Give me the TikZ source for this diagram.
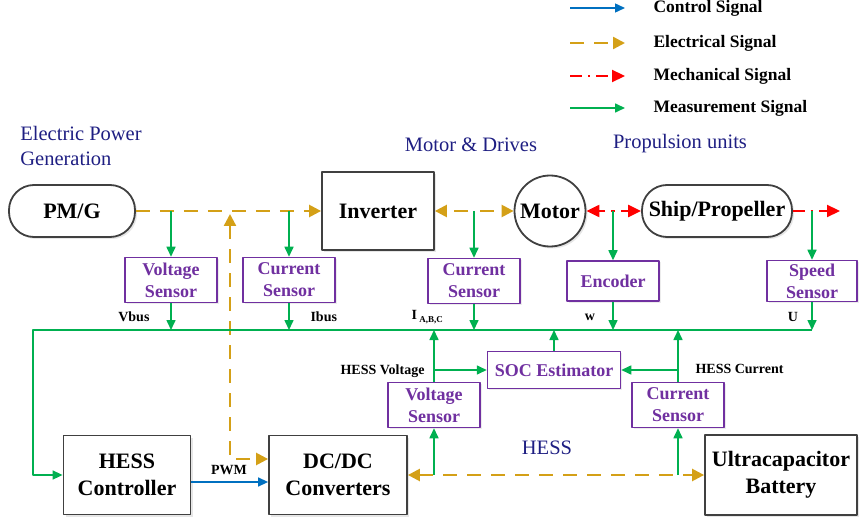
\documentclass[tikz,border=0pt]{standalone}
\usepackage{fontspec}
\setmainfont{Liberation Serif}
\usetikzlibrary{arrows.meta,shadows}
\definecolor{ctrlblue}{RGB}{0,112,192}
\definecolor{elecgold}{RGB}{212,160,23}
\definecolor{measgreen}{RGB}{0,176,80}
\definecolor{sensorpurple}{RGB}{112,48,160}
\definecolor{groupnavy}{RGB}{30,30,130}
\definecolor{boxgray}{RGB}{64,64,64}
\begin{document}
\begin{tikzpicture}[x=1pt,y=-1pt,line join=round]
	\tikzset{
		block/.style={draw=boxgray,line width=1.8pt,fill=white,align=center,inner sep=0pt,
			font=\fontsize{22}{27}\selectfont\bfseries,
			drop shadow={opacity=0.2,shadow xshift=2pt,shadow yshift=-2pt}},
		pill/.style={block,rounded corners=25pt},
		sensor/.style={draw=sensorpurple,line width=1.5pt,fill=white,text=sensorpurple,align=center,
			inner sep=0pt,minimum width=92pt,minimum height=45pt,
			font=\fontsize{18}{22}\selectfont\bfseries,
			drop shadow={opacity=0.15,shadow xshift=1.5pt,shadow yshift=-1.5pt}},
		group/.style={text=groupnavy,align=left,font=\fontsize{20.5}{25}\selectfont},
		tag/.style={font=\fontsize{14}{16}\selectfont\bfseries},
		legendtext/.style={anchor=west,font=\fontsize{17.5}{20}\selectfont\bfseries},
		ctrl/.style={ctrlblue,line width=1.4pt,>={Triangle[length=10pt,width=9pt]}},
		elec/.style={elecgold,line width=2.4pt,dash pattern=on 14pt off 10pt,>={Triangle[length=12pt,width=12pt]}},
		mech/.style={red,line width=2.2pt,dash pattern=on 12pt off 6pt on 2pt off 6pt,>={Triangle[length=13pt,width=12pt]}},
		meas/.style={measgreen,line width=1.6pt,>={Triangle[length=10pt,width=9pt]}}
	}
	\useasboundingbox (0,0) rectangle (859,521);
	% legend
	\foreach \sty/\txt/\y [count=\i] in {ctrl/Control Signal/8,elec/Electrical Signal/43,mech/Mechanical Signal/76,meas/Measurement Signal/108}{
		\coordinate (legs\i) at (570,\y);
		\coordinate (lege\i) at (625,\y);
		\node[legendtext] (legtxt\i) at (650,\y) {\txt};
		\draw[\sty,->] (legs\i) -- (lege\i);
	}
	% group titles
	\node[group] (gen) at (81,146) {Electric Power\\Generation};
	\node[group] (drives) at (471,145) {Motor \& Drives};
	\node[group] (prop) at (680,144) {Propulsion units};
	\node[group] (hess) at (547,448) {HESS};
	% main blocks
	\node[pill,minimum width=126pt,minimum height=52pt] (pmg) at (72,211) {PM/G};
	\node[block,minimum width=112pt,minimum height=78pt] (inv) at (378,211) {Inverter};
	\node[block,circle,minimum size=71pt] (motor) at (550,211) {Motor};
	\node[pill,minimum width=150pt,minimum height=52pt] (ship) at (717,211) {Ship/Propeller};
	\node[block,minimum width=127pt,minimum height=79pt] (hc) at (127,475) {HESS\\Controller};
	\node[block,minimum width=138pt,minimum height=79pt] (dcdc) at (338,475) {DC/DC\\Converters};
	\node[block,minimum width=152pt,minimum height=80pt] (uc) at (781,475) {Ultracapacitor\\Battery};
	% sensors
	\node[sensor] (vs1) at (171,280) {Voltage\\Sensor};
	\node[sensor] (cs1) at (289,280) {Current\\Sensor};
	\node[sensor] (cs2) at (474,281) {Current\\Sensor};
	\node[sensor,minimum height=40pt] (enc) at (613,281) {Encoder};
	\node[sensor,minimum width=90pt,minimum height=41pt] (ss) at (812,281) {Speed\\Sensor};
	\node[sensor,minimum width=133pt,minimum height=37pt] (soc) at (554,370) {SOC Estimator};
	\node[sensor] (vs2) at (434,405) {Voltage\\Sensor};
	\node[sensor] (cs3) at (678,405) {Current\\Sensor};
	% signal labels
	\node[tag,anchor=east] (vbus) at (153,317) {Vbus};
	\node[tag,anchor=west] (ibus) at (307,317) {Ibus};
	\node[tag,anchor=west] (iabc) at (408,317) {I\,\raisebox{-2.5pt}{\fontsize{9}{10}\selectfont A,B,C}};
	\node[tag] (wlab) at (590,317) {w};
	\node[tag] (ulab) at (793,317) {U};
	\node[tag,anchor=east] (hv) at (428,371) {HESS Voltage};
	\node[tag,anchor=west] (hi) at (692,369) {HESS Current};
	\node[tag] (pwm) at (229,470) {PWM};
	% electrical
	\coordinate (gtap) at (230,214);
	\coordinate (itap) at (474,211);
	\draw[elec,->] (pmg) -- (inv);
	\draw[elec,<->] (gtap) |- ([yshift=16pt]dcdc.west);
	\draw[elec,->] ([xshift=-6pt]itap) -- (inv.east);
	\draw[elec,->] ([xshift=6pt]itap) -- (motor.west);
	\draw[elec,<->] (dcdc.east) -- (uc.west);
	% mechanical
	\coordinate (etap) at (613,211);
	\coordinate (wake) at (840,211);
	\draw[mech,dash phase=18pt,->] (etap) -- (motor.east);
	\draw[mech,dash phase=18pt,->] (etap) -- (ship.west);
	\draw[mech,->] (ship.east) -- (wake);
	% control
	\draw[ctrl,->] ([yshift=-7pt]hc.east) -- ([yshift=-7pt]hc.east -| dcdc.west);
	% measurement
	\coordinate (busL) at (33,330);
	\draw[meas,->] (vs1.north |- pmg.east) -- (vs1.north);
	\draw[meas,->] (cs1.north |- pmg.east) -- (cs1.north);
	\draw[meas,->] (itap) -- (cs2.north);
	\draw[meas,->] (etap) -- (enc.north);
	\draw[meas,->] (ss.north |- ship.east) -- (ss.north);
	\foreach \s in {vs1,cs1,cs2,enc,ss}
	\draw[meas,->] (\s.south) -- (\s.south |- busL);
	\foreach \s in {vs2,soc,cs3}
	\draw[meas,->] (\s.north) -- (\s.north |- busL);
	\draw[meas,->] (ss.south |- busL) -- (busL) |- (hc.west);
	\draw[meas,->] (vs2.north |- soc.west) -- (soc.west);
	\draw[meas,->] (cs3.north |- soc.east) -- (soc.east);
	\draw[meas,->] (vs2.south |- dcdc.east) -- (vs2.south);
	\draw[meas,->] (cs3.south |- uc.west) -- (cs3.south);
\end{tikzpicture}
\end{document}
